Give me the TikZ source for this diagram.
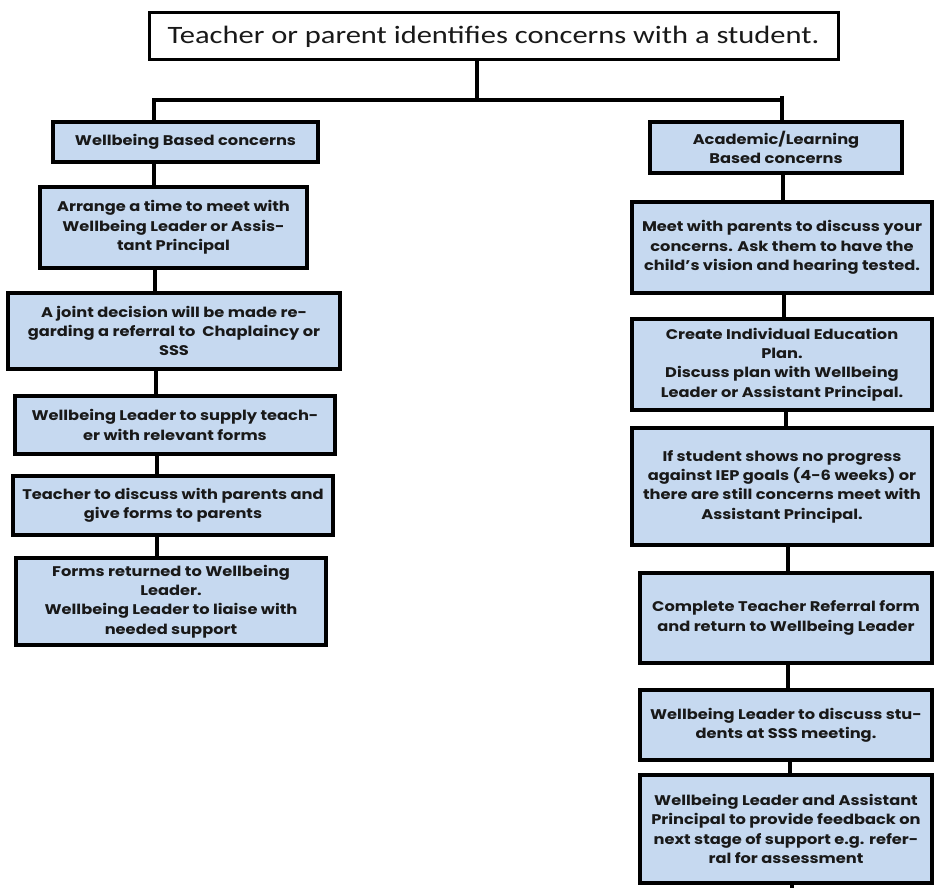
\documentclass[tikz,border=0pt]{standalone}
\usepackage{fontspec}
\newfontfamily\boxfont{Poppins}[FakeStretch=1.16]
\newfontfamily\topfont{Carlito}[FakeStretch=1.22]
\definecolor{boxblue}{RGB}{198,217,240}
\definecolor{ink}{RGB}{25,25,25}
\begin{document}
\begin{tikzpicture}[x=1pt,y=-1pt,
  box/.style={draw=black, line width=3.2pt, fill=boxblue, align=center, inner sep=0pt,
    text=ink, font=\boxfont\bfseries\fontsize{14}{19.3}\selectfont},
  topbox/.style={draw=black, line width=3pt, fill=white, align=center, inner sep=0pt,
    text=ink, font=\topfont\fontsize{25}{30}\selectfont},
  link/.style={draw=black, line width=3.2pt}]
\useasboundingbox (0,0) rectangle (934,888);
\fill[white] (0,0) rectangle (934,888);

\node[topbox, minimum width=689pt, minimum height=47pt] (top) at (493.5,36.5)
  {Teacher or parent identifies concerns with a student.};

% left column
\node[box, minimum width=265pt, minimum height=40pt] (L1) at (185.5,142) {Wellbeing Based concerns};
\node[box, minimum width=267pt, minimum height=81pt] (L2) at (173.5,227.5)
  {Arrange a time to meet with\\Wellbeing Leader or Assis-\\tant Principal};
\node[box, minimum width=332pt, minimum height=76pt] (L3) at (174,331)
  {A joint decision will be made re-\\garding a referral to~~Chaplaincy or\\SSS};
\node[box, minimum width=320pt, minimum height=58pt] (L4) at (175,425)
  {Wellbeing Leader to supply teach-\\er with relevant forms};
\node[box, minimum width=320pt, minimum height=59pt] (L5) at (173,505.5)
  {Teacher to discuss with parents and\\give forms to parents};
\node[box, minimum width=310pt, minimum height=87pt] (L6) at (171,601.5)
  {Forms returned to Wellbeing\\Leader.\\Wellbeing Leader to liaise with\\needed support};

% right column
\node[box, minimum width=252pt, minimum height=51pt] (R1) at (776,147.5)
  {Academic/Learning\\Based concerns};
\node[box, minimum width=300pt, minimum height=91pt] (R2) at (782,247.5)
  {Meet with parents to discuss your\\concerns. Ask them to have the\\child’s vision and hearing tested.};
\node[box, minimum width=300pt, minimum height=91pt] (R3) at (782,364.5)
  {Create Individual Education\\Plan.\\Discuss plan with Wellbeing\\Leader or Assistant Principal.};
\node[box, minimum width=300pt, minimum height=117pt] (R4) at (782,486.5)
  {If student shows no progress\\against IEP goals (4-6 weeks) or\\there are still concerns meet with\\Assistant Principal.};
\node[box, minimum width=292pt, minimum height=90pt] (R5) at (786,618)
  {Complete Teacher Referral form\\and return to Wellbeing Leader};
\node[box, minimum width=292pt, minimum height=70pt] (R6) at (786,725)
  {Wellbeing Leader to discuss stu-\\dents at SSS meeting.};
\node[box, minimum width=292pt, minimum height=108pt] (R7) at (786,829)
  {Wellbeing Leader and Assistant\\Principal to provide feedback on\\next stage of support e.g. refer-\\ral for assessment};

% junctions
\coordinate (jt) at (477,100);
\coordinate (jl) at (154,100);
\coordinate (jr) at (782,100);
\coordinate (jrt) at (782,96);
\coordinate (tail) at (792,888);

\draw[link] (top.south -| jt) -- (jt);
\draw[link] (L1.north -| jl) -- (jl) -- (jr);
\draw[link] (jrt) -- (R1.north -| jrt);

\draw[link] (L1.south -| 154,0) -- (L2.north -| 154,0);
\draw[link] (L2.south -| 155,0) -- (L3.north -| 155,0);
\draw[link] (L3.south -| 156,0) -- (L4.north -| 156,0);
\draw[link] (L4.south -| 157,0) -- (L5.north -| 157,0);
\draw[link] (L5.south -| 157,0) -- (L6.north -| 157,0);

\draw[link] (R1.south -| 783,0) -- (R2.north -| 783,0);
\draw[link] (R2.south -| 784,0) -- (R3.north -| 784,0);
\draw[link] (R3.south -| 786,0) -- (R4.north -| 786,0);
\draw[link] (R4.south -| 788,0) -- (R5.north -| 788,0);
\draw[link] (R5.south -| 788,0) -- (R6.north -| 788,0);
\draw[link] (R6.south -| 790,0) -- (R7.north -| 790,0);
\draw[link] (R7.south -| tail) -- (tail);
\end{tikzpicture}
\end{document}
